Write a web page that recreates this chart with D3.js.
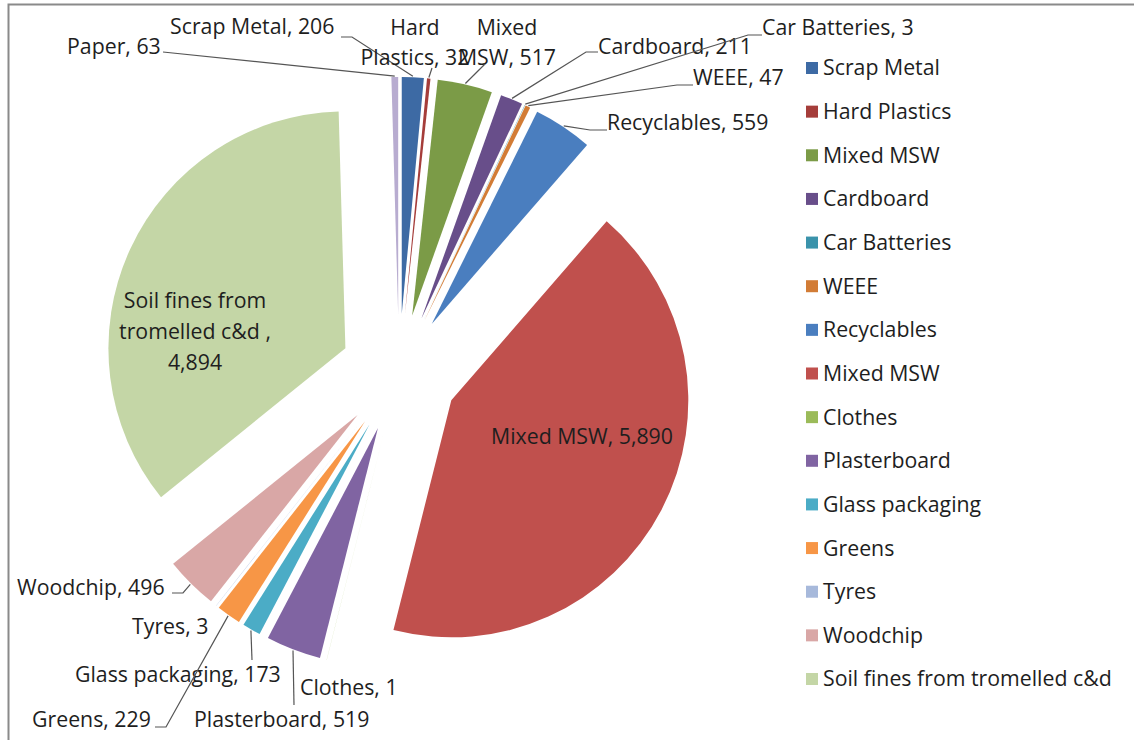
<!DOCTYPE html>
<html>
<head>
<meta charset="utf-8">
<script src="https://cdn.jsdelivr.net/npm/d3@7"></script>
<style>
  html, body { margin: 0; padding: 0; background: #fff; }
  svg { display: block; }
  text { font-family: "Open Sans", Lato, sans-serif; fill: #1e1e1e; }
</style>
</head>
<body>
<svg id="chart" width="1134" height="740"></svg>
<script>
// ---- data ----
const categories = ["Scrap Metal", "Hard Plastics", "Mixed MSW", "Cardboard", "Car Batteries", "WEEE",
  "Recyclables", "Mixed MSW", "Clothes", "Plasterboard", "Glass packaging", "Greens", "Tyres",
  "Woodchip", "Soil fines from tromelled c&d ", "Paper"];
const values = [206, 32, 517, 211, 3, 47, 559, 5890, 1, 519, 173, 229, 3, 496, 4894, 63];
const colors = ["#3d6aa4", "#a53d3a", "#7b9b47", "#684e8a", "#3a93ab", "#d27c36",
  "#4a7ebf", "#c0504d", "#9bbb59", "#8064a2", "#4bacc6", "#f79646", "#a7b9db",
  "#d9a7a6", "#c4d6a6", "#b8acd0"];
const legendCount = 15; // the legend box only has room for the first 15 entries

// ---- layout (not data) ----
const W = 1134, H = 740;
const cx = 399, cy = 373, R = 237, explode = 59;
const labelLayout = [
  { i: 15, x: 67,  y: 47,  anchor: "start",  lines: [3], leader: [[163, 52]] },
  { i: 0,  x: 170, y: 27,  anchor: "start",  lines: [3], leader: [[341, 37], [352, 37]] },
  { i: 1,  x: 415, y: 28,  anchor: "middle", lines: [1, 2], leader: [[432, 68]] },
  { i: 2,  x: 507, y: 28,  anchor: "middle", lines: [1, 2], leader: [[485, 64]] },
  { i: 3,  x: 598, y: 47,  anchor: "start",  lines: [2], leader: [[598, 52], [586, 52]] },
  { i: 4,  x: 762, y: 28,  anchor: "start",  lines: [3], leader: [[762, 35], [748, 35]] },
  { i: 5,  x: 693, y: 78,  anchor: "start",  lines: [2], leader: [[693, 85], [677, 85]] },
  { i: 6,  x: 607, y: 123, anchor: "start",  lines: [2], leader: [[607, 130], [590, 130]] },
  { i: 7,  x: 582, y: 437, anchor: "middle", lines: [3], leader: null },
  { i: 8,  x: 300, y: 688, anchor: "start",  lines: [2], leader: null },
  { i: 9,  x: 194, y: 720, anchor: "start",  lines: [2], leader: [[294, 705]] },
  { i: 10, x: 75,  y: 675, anchor: "start",  lines: [3], leader: [[252, 660]] },
  { i: 11, x: 32,  y: 720, anchor: "start",  lines: [2], leader: [[155, 727], [166, 727]] },
  { i: 12, x: 132, y: 627, anchor: "start",  lines: [2], leader: null },
  { i: 13, x: 17,  y: 588, anchor: "start",  lines: [2], leader: [[172, 593], [183, 593]] },
  { i: 14, x: 195, y: 301, anchor: "middle", lines: [3, 3, 1], leader: null, lh: 31 }
];
const fontSize = 21.3;

const svg = d3.select("#chart");
svg.append("rect").attr("width", W).attr("height", H).attr("fill", "#fff");

// chart area border (cut by the picture's right and bottom edges)
svg.append("path")
  .attr("d", "M8.5,745 V4.5 H1140")
  .attr("fill", "none").attr("stroke", "#8a8a8a").attr("stroke-width", 2);

const pie = d3.pie().sort(null).value(d => d).startAngle(0).endAngle(2 * Math.PI);
const arcs = pie(values);
const arcGen = d3.arc().innerRadius(0).outerRadius(R);

function offset(a, r) {
  const m = (a.startAngle + a.endAngle) / 2;
  return [Math.sin(m) * r, -Math.cos(m) * r];
}

const g = svg.append("g").attr("transform", `translate(${cx},${cy})`);
g.selectAll("path.slice")
  .data(arcs)
  .join("path")
  .attr("class", "slice")
  .attr("d", arcGen)
  .attr("fill", (d, i) => colors[i])
  .attr("transform", d => { const o = offset(d, explode); return `translate(${o[0]},${o[1]})`; });

const fmt = d3.format(",");
const labels = svg.append("g");

labelLayout.forEach(L => {
  const a = arcs[L.i];
  const full = categories[L.i] + ", " + fmt(values[L.i]);
  const words = full.split(" ");
  const rows = [];
  let k = 0;
  L.lines.forEach(n => { rows.push(words.slice(k, k + n).join(" ")); k += n; });
  if (k < words.length) rows[rows.length - 1] += " " + words.slice(k).join(" ");
  const lh = L.lh || 30;
  const t = labels.append("text")
    .attr("text-anchor", L.anchor)
    .attr("font-size", fontSize);
  rows.forEach((r, j) => {
    t.append("tspan").attr("x", L.x).attr("y", L.y + j * lh).attr("dy", "0.35em").text(r);
  });
  if (L.leader) {
    const p = offset(a, R + explode + 1);
    const pts = L.leader.concat([[cx + p[0], cy + p[1]]]);
    labels.append("path")
      .attr("d", d3.line()(pts))
      .attr("fill", "none").attr("stroke", "#555").attr("stroke-width", 1.2);
  }
});

// legend
const legendY = d3.scalePoint()
  .domain(d3.range(legendCount))
  .range([68, 679]);
const leg = svg.append("g");
d3.range(legendCount).forEach(i => {
  const y = legendY(i);
  leg.append("rect").attr("x", 806).attr("y", y - 6).attr("width", 12).attr("height", 12).attr("fill", colors[i]);
  leg.append("text").attr("x", 823).attr("y", y).attr("dy", "0.35em")
    .attr("font-size", fontSize).text(categories[i].trim());
});
</script>
</body>
</html>
